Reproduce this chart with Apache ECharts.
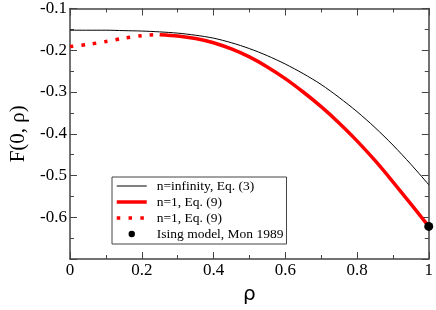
<!DOCTYPE html>
<html>
<head>
<meta charset="utf-8">
<script src="https://cdn.jsdelivr.net/npm/echarts@6/dist/echarts.min.js"></script>
<style>html,body{margin:0;padding:0;background:#fff}#c{width:436px;height:310px}</style>
</head>
<body>
<div id="c"></div>
<script>
// ---- data ----
var infRho = [0, 0.05, 0.1, 0.15, 0.2, 0.25, 0.3, 0.35, 0.4, 0.45, 0.5, 0.55, 0.6, 0.65, 0.7, 0.75, 0.8, 0.85, 0.9, 0.95, 1.0];
var infVal = [-0.152, -0.152, -0.152, -0.153, -0.154, -0.156, -0.159, -0.164, -0.171, -0.182, -0.196, -0.213, -0.233, -0.256, -0.282, -0.313, -0.347, -0.385, -0.427, -0.473, -0.522];
var n1SolidRho = [0.25, 0.3, 0.35, 0.4, 0.45, 0.5, 0.55, 0.6, 0.65, 0.7, 0.75, 0.8, 0.85, 0.9, 0.95, 1.0];
var n1SolidVal = [-0.163, -0.166, -0.172, -0.182, -0.197, -0.216, -0.240, -0.268, -0.300, -0.335, -0.374, -0.417, -0.464, -0.515, -0.568, -0.622];
var n1DotRho = [0, 0.05, 0.1, 0.15, 0.2, 0.25];
var n1DotVal = [-0.191, -0.186, -0.179, -0.171, -0.165, -0.162];
var isingRho = [1.0];
var isingVal = [-0.622];
var legendLabels = ['n=infinity, Eq. (3)', 'n=1, Eq. (9)', 'n=1, Eq. (9)', 'Ising model, Mon 1989'];
var seriesKeys = ['inf', 'n1solid', 'n1dot', 'ising'];
var xTicks = [0, 0.2, 0.4, 0.6, 0.8, 1];
var yTicks = [-0.7, -0.6, -0.5, -0.4, -0.3, -0.2, -0.1];

function pairs(a, b) { return a.map(function (v, i) { return [v, b[i]]; }); }

var serif = '"Liberation Serif", "Times New Roman", serif';
var axisColor = '#444';
function xAxisCfg(pos, showLabel) {
  return {
    type: 'value', position: pos, min: xTicks[0], max: xTicks[xTicks.length - 1], interval: 0.2,
    axisLine: { show: true, onZero: false, lineStyle: { color: axisColor, width: 1.5 } },
    axisTick: { show: true, inside: true, length: 7, lineStyle: { color: axisColor, width: 1 } },
    minorTick: { show: true, splitNumber: 2, length: 4, lineStyle: { color: axisColor, width: 1 } },
    splitLine: { show: false },
    axisLabel: { show: showLabel, margin: 3, color: '#000', fontFamily: serif, fontSize: 17,
      formatter: function (v) { return (v === 0 || v === 1) ? String(v) : v.toFixed(1); } }
  };
}
function yAxisCfg(pos, showLabel) {
  return {
    type: 'value', position: pos, min: yTicks[0], max: yTicks[yTicks.length - 1], interval: 0.1,
    axisLine: { show: true, onZero: false, lineStyle: { color: axisColor, width: 1.5 } },
    axisTick: { show: true, inside: true, length: 7, lineStyle: { color: axisColor, width: 1 } },
    minorTick: { show: true, splitNumber: 2, length: 4, lineStyle: { color: axisColor, width: 1 } },
    splitLine: { show: false },
    axisLabel: { show: showLabel, margin: 3, color: '#000', fontFamily: serif, fontSize: 17,
      formatter: function (v) { return v < -0.65 ? '' : v.toFixed(1); } }
  };
}

var xa0 = xAxisCfg('bottom', true);
xa0.name = 'ρ'; xa0.nameLocation = 'middle'; xa0.nameGap = 26;
xa0.nameTextStyle = { fontFamily: 'DejaVu Sans', fontSize: 20, color: '#000' };
var ya0 = yAxisCfg('left', true);
ya0.name = 'F(0, ρ)'; ya0.nameLocation = 'middle'; ya0.nameGap = 41;
ya0.nameTextStyle = { fontFamily: serif, fontSize: 21, color: '#000' };

var hiddenSym = { color: 'rgba(0,0,0,0)', borderWidth: 0 };
var chart = echarts.init(document.getElementById('c'), null, { renderer: 'canvas' });
chart.setOption({
  animation: false,
  backgroundColor: '#fff',
  grid: { left: 56, right: 5, top: 7, bottom: 41, containLabel: false },
  xAxis: [xa0, xAxisCfg('top', false)],
  yAxis: [ya0, yAxisCfg('right', false)],
  legend: {
    orient: 'vertical', left: 112, top: 177,
    data: [
      { name: seriesKeys[0], itemStyle: hiddenSym, lineStyle: { width: 1 } },
      { name: seriesKeys[1], itemStyle: hiddenSym, lineStyle: { width: 3.5 } },
      { name: seriesKeys[2], itemStyle: hiddenSym, lineStyle: { width: 3.5, type: [3.5, 8.3], cap: 'butt' } },
      { name: seriesKeys[3] }
    ],
    formatter: function (n) { return legendLabels[seriesKeys.indexOf(n)]; },
    padding: [1, 3, 2, 3], itemGap: 0, itemWidth: 30, itemHeight: 8,
    borderColor: '#444', borderWidth: 1, backgroundColor: '#fff', borderRadius: 0,
    textStyle: { fontFamily: serif, fontSize: 13.5, lineHeight: 16, color: '#000', padding: [0, 0, 0, 5] }
  },
  series: [
    { name: 'inf', type: 'line', data: pairs(infRho, infVal), smooth: 0.3, symbol: 'none',
      lineStyle: { color: '#000', width: 1 }, itemStyle: { color: '#000' }, z: 2 },
    { name: 'n1solid', type: 'line', data: pairs(n1SolidRho, n1SolidVal), smooth: 0.3, symbol: 'none',
      lineStyle: { color: '#ff0000', width: 3.5 }, itemStyle: { color: '#ff0000' }, z: 3 },
    { name: 'n1dot', type: 'line', data: pairs(n1DotRho, n1DotVal), smooth: 0.3, symbol: 'none',
      lineStyle: { color: '#ff0000', width: 3.5, type: [3.5, 8], cap: 'butt' }, itemStyle: { color: '#ff0000' }, z: 3 },
    { name: 'ising', type: 'line', data: pairs(isingRho, isingVal), symbol: 'circle', symbolSize: 9, showSymbol: true,
      lineStyle: { width: 0, opacity: 0 }, itemStyle: { color: '#000' }, z: 5 }
  ]
});
</script>
</body>
</html>
